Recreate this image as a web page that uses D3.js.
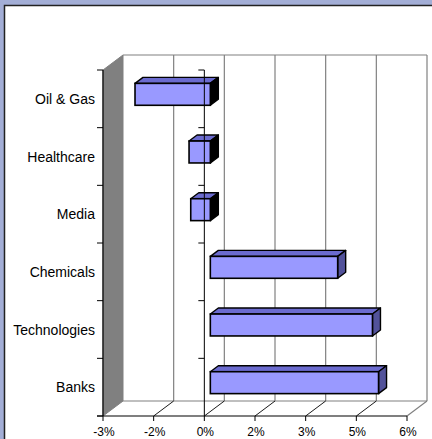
<!DOCTYPE html>
<html>
<head>
<meta charset="utf-8">
<script src="https://cdn.jsdelivr.net/npm/d3@7/dist/d3.min.js"></script>
<style>
html,body{margin:0;padding:0;background:#A3AED6;}
svg{display:block;}
text{font-family:"Liberation Sans",Arial,sans-serif;fill:#000;}
</style>
</head>
<body>
<script>
const categories = ["Oil & Gas","Healthcare","Media","Chemicals","Technologies","Banks"];
const values = [-2.23,-0.63,-0.58,3.77,4.80,4.98];
const tickValues = [-3,-1.5,0,1.5,3,4.5,6];
const tickLabels = ["-3%","-2%","0%","2%","3%","5%","6%"];

(function(){
const W=432,H=439;
const svg=d3.select("body").append("svg").attr("width",W).attr("height",H);

// chart area
svg.append("rect").attr("x",4).attr("y",5).attr("width",W-4).attr("height",H-5).attr("fill","#fff");
svg.append("path").attr("d",`M4.5,${H} V5.5 H${W}`).attr("fill","none").attr("stroke","#222").attr("stroke-width",1.5);

const x=d3.scaleLinear().domain([-3,6]).range([103,407]);
const y=d3.scaleBand().domain(categories).range([70,416]).paddingInner(0).paddingOuter(0);
const DX=20, DY=-15; // full depth offset
const yTop=y.range()[0], yBot=y.range()[1];

// back wall gridlines
const back=svg.append("g");
tickValues.forEach((t,i)=>{
  if(i===0) return;
  back.append("line").attr("x1",x(t)+DX).attr("x2",x(t)+DX).attr("y1",yTop+DY).attr("y2",yBot+DY)
    .attr("stroke","#808080").attr("stroke-width",1.2);
});
back.append("line").attr("x1",x(-3)+DX).attr("x2",x(6)+DX).attr("y1",yTop+DY).attr("y2",yTop+DY).attr("stroke","#808080").attr("stroke-width",1.2);
back.append("line").attr("x1",x(-3)+DX).attr("x2",x(6)+DX).attr("y1",yBot+DY).attr("y2",yBot+DY).attr("stroke","#808080").attr("stroke-width",1.2);
// floor right edge
back.append("line").attr("x1",x(6)).attr("x2",x(6)+DX).attr("y1",yBot).attr("y2",yBot+DY).attr("stroke","#808080").attr("stroke-width",1.2);
// floor diagonals
tickValues.forEach((t,i)=>{
  if(i===0||i===tickValues.length-1) return;
  back.append("line").attr("x1",x(t)).attr("x2",x(t)+DX).attr("y1",yBot).attr("y2",yBot+DY)
    .attr("stroke","#000").attr("stroke-width",0.9);
});
// left wall
back.append("path").attr("d",`M${x(-3)},${yTop} L${x(-3)+DX},${yTop+DY} L${x(-3)+DX},${yBot+DY} L${x(-3)},${yBot} Z`)
  .attr("fill","#808080").attr("stroke","#808080");

// bars
const f0=0.3, f1=0.7;
const bh=y.bandwidth()*0.38;
const bars=svg.append("g");
categories.forEach((c,i)=>{
  const v=values[i];
  const xa=Math.min(x(0),x(v))+DX*f0, xb=Math.max(x(0),x(v))+DX*f0;
  const yc=y(c)+y.bandwidth()/2+DY*f0;
  const y0=yc-bh/2, y1=yc+bh/2;
  const ddx=DX*(f1-f0), ddy=DY*(f1-f0);
  bars.append("path").attr("d",`M${xa},${y0} L${xb},${y0} L${xb+ddx},${y0+ddy} L${xa+ddx},${y0+ddy} Z`)
    .attr("fill","#6B6BCF").attr("stroke","#000").attr("stroke-width",1.4).attr("stroke-linejoin","round");
  bars.append("path").attr("d",`M${xb},${y0} L${xb+ddx},${y0+ddy} L${xb+ddx},${y1+ddy} L${xb},${y1} Z`)
    .attr("fill",v<0?"#000":"#52529A").attr("stroke","#000").attr("stroke-width",1.4).attr("stroke-linejoin","round");
  bars.append("rect").attr("x",xa).attr("y",y0).attr("width",xb-xa).attr("height",y1-y0)
    .attr("fill","#9999FF").attr("stroke","#000").attr("stroke-width",1.6);
});

// zero axis line (front plane)
const axg=svg.append("g");
axg.append("line").attr("x1",x(0)).attr("x2",x(0)).attr("y1",yTop).attr("y2",yBot).attr("stroke","#000").attr("stroke-width",1);
// left axis
axg.append("line").attr("x1",x(-3)).attr("x2",x(-3)).attr("y1",yTop).attr("y2",yBot).attr("stroke","#000").attr("stroke-width",1.2);
const bounds=categories.map(c=>y(c)).concat([yBot]);
bounds.forEach(b=>{
  axg.append("line").attr("x1",x(-3)-6).attr("x2",x(-3)).attr("y1",b).attr("y2",b).attr("stroke","#000");
  if(b<yBot) axg.append("line").attr("x1",x(0)-6).attr("x2",x(0)).attr("y1",b).attr("y2",b).attr("stroke","#000");
});
// bottom axis
axg.append("line").attr("x1",x(-3)-6).attr("x2",x(6)).attr("y1",yBot).attr("y2",yBot).attr("stroke","#000").attr("stroke-width",1.2);
tickValues.forEach((t,i)=>{
  axg.append("line").attr("x1",x(t)).attr("x2",x(t)).attr("y1",yBot).attr("y2",yBot+5).attr("stroke","#000");
  axg.append("text").attr("x",x(t)+1).attr("y",436).attr("text-anchor","middle").attr("font-size",12).text(tickLabels[i]);
});
// category labels
categories.forEach(c=>{
  axg.append("text").attr("x",95).attr("y",y(c)+y.bandwidth()/2+5).attr("text-anchor","end")
    .attr("font-size",14).text(c);
});
})();
</script>
</body>
</html>
